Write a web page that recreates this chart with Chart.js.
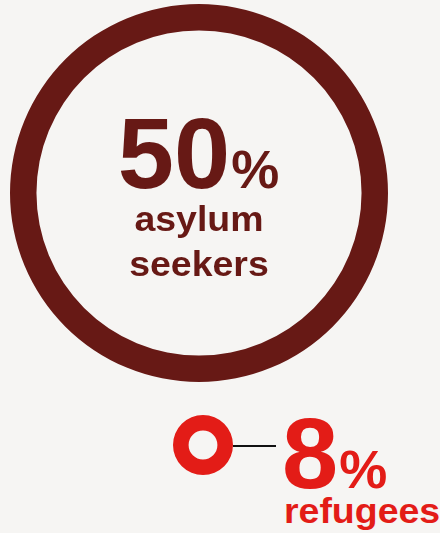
<!DOCTYPE html>
<html>
<head>
<meta charset="utf-8">
<script src="https://cdn.jsdelivr.net/npm/chart.js@4.4.0/dist/chart.umd.min.js"></script>
<style>
  html, body { margin: 0; padding: 0; background: #f6f5f3; }
  body { width: 440px; height: 533px; position: relative; overflow: hidden;
         font-family: "Liberation Sans", Arial, sans-serif; font-weight: bold; }
  .ring { position: absolute; }
  .txt { position: absolute; white-space: nowrap; }
  #bigRing { left: 10px; top: 4px; width: 378px; height: 378px; }
  #smallRing { left: 173px; top: 415px; width: 60px; height: 60px; }
  #bigNum { left: 0; width: 397px; top: 103px; text-align: center; font-size: 101px; line-height: 101px; color: #671915; }
  #bigNum span, #smallNum span { font-size: 54px; margin-left: 1px; }
  .lbl { font-size: 35px; line-height: 35px; transform: scaleX(1.07); }
  #bigLbl1 { left: 0; width: 398px; top: 201px; text-align: center; color: #671915; }
  #bigLbl2 { left: 0; width: 398px; top: 246px; text-align: center; color: #671915; }
  #connector { position: absolute; left: 233px; top: 445px; width: 43px; height: 2px; background: #111; }
  #smallNum { left: 282px; top: 403px; font-size: 101px; line-height: 101px; color: #e31c17; }
  #smallLbl { left: 284px; top: 493px; color: #e31c17; transform-origin: 0 50%; }
</style>
</head>
<body>
<div class="ring" id="bigRing"><canvas id="c0"></canvas></div>
<div class="ring" id="smallRing"><canvas id="c1"></canvas></div>
<div id="connector"></div>
<div class="txt" id="bigNum"></div>
<div class="txt lbl" id="bigLbl1"></div>
<div class="txt lbl" id="bigLbl2"></div>
<div class="txt" id="smallNum"></div>
<div class="txt lbl" id="smallLbl"></div>
<script>
// shares of the group, in percent
var groups = ['asylum seekers', 'refugees'];
var shares = [50, 8];
var ringColors = ['#671915', '#e31c17'];
var cutouts = ['86%', '48%'];

function drawRing(id, i) {
  var ctx = document.getElementById(id).getContext('2d');
  return new Chart(ctx, {
    type: 'doughnut',
    data: {
      labels: [groups[i]],
      datasets: [{
        data: [shares[i]],
        backgroundColor: [ringColors[i]],
        borderWidth: 0,
        hoverOffset: 0,
        offset: 0
      }]
    },
    options: {
      responsive: true,
      maintainAspectRatio: false,
      animation: false,
      cutout: cutouts[i],
      layout: { padding: 0 },
      plugins: { legend: { display: false }, tooltip: { enabled: false } },
      events: []
    }
  });
}

drawRing('c0', 0);
drawRing('c1', 1);

var words0 = groups[0].split(' ');
document.getElementById('bigNum').innerHTML = shares[0] + '<span>%</span>';
document.getElementById('bigLbl1').textContent = words0[0];
document.getElementById('bigLbl2').textContent = words0[1];
document.getElementById('smallNum').innerHTML = shares[1] + '<span>%</span>';
document.getElementById('smallLbl').textContent = groups[1];
</script>
</body>
</html>
